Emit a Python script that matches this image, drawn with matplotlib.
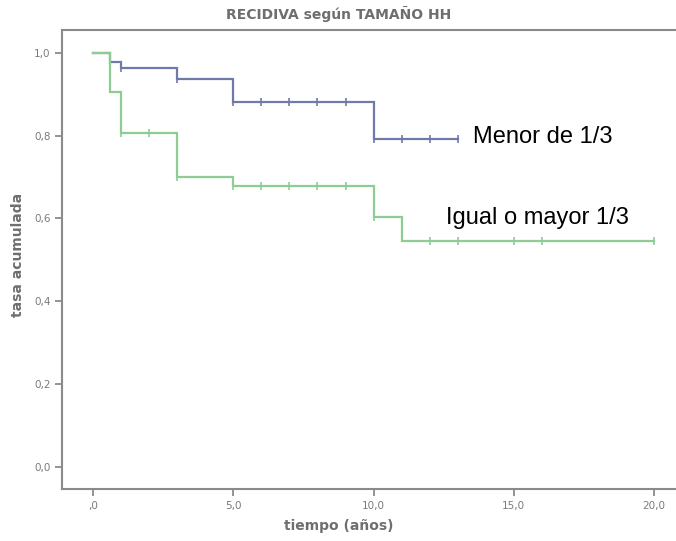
"""Kaplan-Meier style recurrence curves by HH size group."""

import matplotlib

matplotlib.use("Agg")
import matplotlib.pyplot as plt
import numpy as np

# Step curves: event times and the cumulative rate after each event
MENOR_TIMES = [0.0, 0.6, 1.0, 3.0, 5.0, 10.0]
MENOR_SURV = [1.0, 0.977, 0.964, 0.937, 0.882, 0.792]
MENOR_END = 13.0
MENOR_CENSOR = [1, 3, 5, 6, 7, 8, 9, 10, 11, 12, 13]

MAYOR_TIMES = [0.0, 0.6, 1.0, 3.0, 5.0, 10.0, 11.0]
MAYOR_SURV = [1.0, 0.905, 0.807, 0.700, 0.679, 0.604, 0.545]
MAYOR_END = 20.0
MAYOR_CENSOR = [1, 2, 3, 5, 6, 7, 8, 9, 10, 12, 13, 15, 16, 20]

X_TICKS = [0, 5, 10, 15, 20]
X_TICK_LABELS = [",0", "5,0", "10,0", "15,0", "20,0"]
Y_TICKS = [0.0, 0.2, 0.4, 0.6, 0.8, 1.0]
Y_TICK_LABELS = ["0,0", "0,2", "0,4", "0,6", "0,8", "1,0"]

BLUE = "#6f7aa9"
GREEN = "#8dcd94"
GREY = "#6e6e6e"
FRAME = "#8a8a8a"


def step_value(times, surv, t):
    idx = np.searchsorted(times, t, side="right") - 1
    return np.asarray(surv)[idx]


def draw_curve(ax, times, surv, end, censor, color):
    xs = list(times) + [end]
    ys = list(surv) + [surv[-1]]
    ax.step(xs, ys, where="post", color=color, lw=1.6, solid_joinstyle="miter")
    cy = step_value(np.asarray(times), surv, np.asarray(censor, dtype=float))
    ax.plot(censor, cy, ls="none", marker="|", ms=6, mew=1.2, color=color)


fig = plt.figure(figsize=(6.76, 5.41), dpi=100)
ax = fig.add_axes([0.0922, 0.0956, 0.9078, 0.849])

draw_curve(ax, MENOR_TIMES, MENOR_SURV, MENOR_END, MENOR_CENSOR, BLUE)
draw_curve(ax, MAYOR_TIMES, MAYOR_SURV, MAYOR_END, MAYOR_CENSOR, GREEN)

ax.set_xlim(-1.094, 20.78)
ax.set_ylim(-0.0545, 1.0556)

ax.set_xticks(X_TICKS)
ax.set_xticklabels(X_TICK_LABELS)
ax.set_yticks(Y_TICKS)
ax.set_yticklabels(Y_TICK_LABELS)
ax.tick_params(axis="both", colors=FRAME, labelcolor="#7a7a7a", labelsize=7.5,
               width=1.3, length=5)

for side in ("left", "bottom", "top"):
    ax.spines[side].set_color(FRAME)
    ax.spines[side].set_linewidth(1.5)
ax.spines["right"].set_visible(False)

label_font = dict(fontsize=10, fontweight="bold", color=GREY,
                  family="DejaVu Sans")
fig.text(339 / 676, 1 - 14 / 541, "RECIDIVA según TAMAÑO HH",
         ha="center", va="center", **label_font)
fig.text(339 / 676, 1 - 526 / 541, "tiempo (años)",
         ha="center", va="center", **label_font)
fig.text(18 / 676, 1 - 255 / 541, "tasa acumulada", rotation=90,
         ha="center", va="center", **label_font)

note_font = dict(fontsize=17, color="black", family="Liberation Sans",
                 va="center", ha="left")
ax.text(13.54, 0.797, "Menor de 1/3", **note_font)
ax.text(12.58, 0.601, "Igual o mayor 1/3", **note_font)

fig.savefig("out.png", dpi=100)
